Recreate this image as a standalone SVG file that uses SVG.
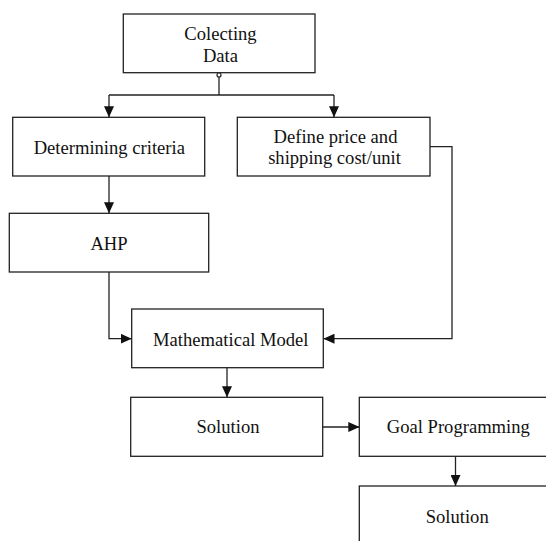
<svg xmlns="http://www.w3.org/2000/svg" width="546" height="541" viewBox="0 0 546 541">
  <style>
    .box { fill: #ffffff; stroke: #222222; stroke-width: 1.3; }
    .lbl { font-family: "Liberation Serif", "Times New Roman", serif; font-size: 18.6px; fill: #111111; text-anchor: middle; }
    .conn { fill: none; stroke: #222222; stroke-width: 1.3; }
  </style>
  <defs>
    <marker id="arrow" markerUnits="userSpaceOnUse" markerWidth="11" markerHeight="10" refX="11" refY="5" orient="auto">
      <path d="M0,0 L11,5 L0,10 z" fill="#111111"/>
    </marker>
  </defs>
  <rect width="546" height="541" fill="#ffffff"/>

  <g id="collecting-data">
    <rect class="box" x="123.3" y="14" width="191.7" height="58.7"/>
    <text class="lbl" x="220.5" y="40">Colecting</text>
    <text class="lbl" x="220.5" y="61.7">Data</text>
  </g>
  <g id="determining-criteria">
    <rect class="box" x="12.7" y="117.3" width="192" height="58.7"/>
    <text class="lbl" x="109.3" y="154">Determining criteria</text>
  </g>
  <g id="define-price">
    <rect class="box" x="237.3" y="117.3" width="192.7" height="58.7"/>
    <text class="lbl" x="335.5" y="143.3">Define price and</text>
    <text class="lbl" x="334.5" y="164.3">shipping cost/unit</text>
  </g>
  <g id="ahp">
    <rect class="box" x="9.3" y="213.3" width="199.4" height="58.7"/>
    <text class="lbl" x="109" y="250">AHP</text>
  </g>
  <g id="mathematical-model">
    <rect class="box" x="131.7" y="309" width="191.6" height="58.7"/>
    <text class="lbl" x="230.8" y="345.7">Mathematical Model</text>
  </g>
  <g id="solution-1">
    <rect class="box" x="130.7" y="397.3" width="192" height="59"/>
    <text class="lbl" x="228" y="433.3">Solution</text>
  </g>
  <g id="goal-programming">
    <rect class="box" x="359.3" y="397.3" width="192" height="59"/>
    <text class="lbl" x="458.3" y="433.3">Goal Programming</text>
  </g>
  <g id="solution-2">
    <rect class="box" x="359.3" y="486" width="192" height="59"/>
    <text class="lbl" x="457.2" y="522.7">Solution</text>
  </g>

  <g id="connectors">
    <path class="conn" d="M219,77 V95"/>
    <path class="conn" d="M109,95 H334"/>
    <path class="conn" d="M109,95 V117.3" marker-end="url(#arrow)"/>
    <path class="conn" d="M334,95 V117.3" marker-end="url(#arrow)"/>
    <circle cx="219" cy="75" r="2" fill="#ffffff" stroke="#222222" stroke-width="1.2"/>
    <path class="conn" d="M109,176 V213.3" marker-end="url(#arrow)"/>
    <path class="conn" d="M109,272 V338.7 H131.7" marker-end="url(#arrow)"/>
    <path class="conn" d="M430,146.7 H452 V338.7 H323.5" marker-end="url(#arrow)"/>
    <path class="conn" d="M227,367.7 V397.3" marker-end="url(#arrow)"/>
    <path class="conn" d="M322.7,427 H359.3" marker-end="url(#arrow)"/>
    <path class="conn" d="M455.5,456.3 V486" marker-end="url(#arrow)"/>
  </g>
</svg>
